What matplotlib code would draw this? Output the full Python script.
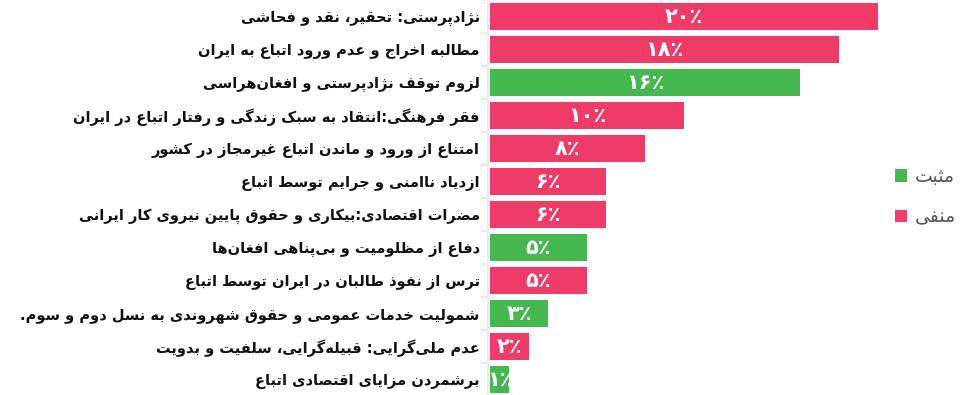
import matplotlib
matplotlib.use("Agg")
import matplotlib.pyplot as plt
from matplotlib.patches import Patch

# ---------------- data ----------------
labels = [
    "نژادپرستی: تحقیر، نقد و فحاشی",
    "مطالبه اخراج و عدم ورود اتباع به ایران",
    "لزوم توقف نژادپرستی و افغان‌هراسی",
    "فقر فرهنگی:انتقاد به سبک زندگی و رفتار اتباع در ایران",
    "امتناع از ورود و ماندن اتباع غیرمجاز در کشور",
    "ازدیاد ناامنی و جرایم توسط اتباع",
    "مضرات اقتصادی:بیکاری و حقوق پایین نیروی کار ایرانی",
    "دفاع از مظلومیت و بی‌پناهی افغان‌ها",
    "ترس از نفوذ طالبان در ایران توسط اتباع",
    "شمولیت خدمات عمومی و حقوق شهروندی به نسل دوم و سوم.",
    "عدم ملی‌گرایی: قبیله‌گرایی، سلفیت و بدویت",
    "برشمردن مزایای اقتصادی اتباع",
]
values = [20, 18, 16, 10, 8, 6, 6, 5, 5, 3, 2, 1]
sentiment = ["neg", "neg", "pos", "neg", "neg", "neg", "neg", "pos", "neg", "pos", "neg", "pos"]
legend_labels = {"pos": "مثبت", "neg": "منفی"}

COLORS = {"pos": "#45B850", "neg": "#EE3B67"}

# ---------------- minimal Arabic/Persian shaping ----------------
DUAL = {
    "ب": "ﺏﺐﺑﺒ", "ت": "ﺕﺖﺗﺘ", "ث": "ﺙﺚﺛﺜ", "ج": "ﺝﺞﺟﺠ", "ح": "ﺡﺢﺣﺤ",
    "خ": "ﺥﺦﺧﺨ", "س": "ﺱﺲﺳﺴ", "ش": "ﺵﺶﺷﺸ", "ص": "ﺹﺺﺻﺼ", "ض": "ﺽﺾﺿﻀ",
    "ط": "ﻁﻂﻃﻄ", "ظ": "ﻅﻆﻇﻈ", "ع": "ﻉﻊﻋﻌ", "غ": "ﻍﻎﻏﻐ", "ف": "ﻑﻒﻓﻔ",
    "ق": "ﻕﻖﻗﻘ", "ك": "ﻙﻚﻛﻜ", "ل": "ﻝﻞﻟﻠ", "م": "ﻡﻢﻣﻤ", "ن": "ﻥﻦﻧﻨ",
    "ه": "ﻩﻪﻫﻬ", "ي": "ﻱﻲﻳﻴ", "ئ": "ﺉﺊﺋﺌ",
    "پ": "\ufb56\ufb57\ufb58\ufb59", "چ": "\ufb7a\ufb7b\ufb7c\ufb7d",
    "ک": "\ufb8e\ufb8f\ufb90\ufb91", "گ": "\ufb92\ufb93\ufb94\ufb95",
    "ی": "\ufbfc\ufbfd\ufbfe\ufbff",
}
RIGHT = {
    "ا": "ﺍﺎ", "آ": "ﺁﺂ", "أ": "ﺃﺄ", "د": "ﺩﺪ", "ذ": "ﺫﺬ", "ر": "ﺭﺮ",
    "ز": "ﺯﺰ", "و": "ﻭﻮ", "ة": "ﺓﺔ", "ژ": "\ufb8a\ufb8b",
}
LAMALEF = {"ا": "\ufefb\ufefc", "آ": "\ufef5\ufef6", "أ": "\ufef7\ufef8"}


def _is_letter(c):
    return c in DUAL or c in RIGHT


def shape(text):
    chars = list(text)
    out = []
    i = 0
    n = len(chars)
    while i < n:
        c = chars[i]
        prev_join = i > 0 and chars[i - 1] in DUAL
        if c == "ل" and i + 1 < n and chars[i + 1] in LAMALEF:
            forms = LAMALEF[chars[i + 1]]
            out.append(forms[1] if prev_join else forms[0])
            i += 2
            continue
        if c in DUAL:
            next_join = i + 1 < n and _is_letter(chars[i + 1])
            f = DUAL[c]
            if prev_join and next_join:
                out.append(f[3])
            elif prev_join:
                out.append(f[1])
            elif next_join:
                out.append(f[2])
            else:
                out.append(f[0])
        elif c in RIGHT:
            f = RIGHT[c]
            out.append(f[1] if prev_join else f[0])
        elif c == "\u200c":
            pass
        else:
            out.append(c)
        i += 1
    return "".join(reversed(out))


FA_DIGITS = str.maketrans("0123456789", "۰۱۲۳۴۵۶۷۸۹")


def pct(v):
    return str(v).translate(FA_DIGITS) + "٪"


# ---------------- figure ----------------
plt.rcParams["font.family"] = ["DejaVu Sans"]
fig = plt.figure(figsize=(9.75, 3.95), dpi=100)
W, H = 975, 395
ax = fig.add_axes([488 / W, 1 - 396 / H, 390 / W, 396 / H])

n = len(values)
ypos = list(range(n))
bar_colors = [COLORS[s] for s in sentiment]
bars = ax.barh(ypos, values, height=0.82, color=bar_colors, zorder=2)
ax.set_ylim(n - 0.5, -0.5)
ax.set_xlim(-0.103, 20)

for rect, v in zip(bars, values):
    ax.text(rect.get_x() + rect.get_width() / 2, rect.get_y() + rect.get_height() / 2,
            pct(v), color="white", fontsize=15, fontweight="bold",
            ha="center", va="center", zorder=3)

ax.set_yticks(ypos)
ax.set_yticklabels([shape(l) for l in labels], fontsize=10.5, fontweight="bold", color="#111111")
ax.tick_params(axis="y", which="major", length=0, pad=6)
ax.set_yticks([y + 0.5 for y in range(-1, n)], minor=True)
ax.tick_params(axis="y", which="minor", length=5, width=1.5, color="#e8e8e8")
ax.set_xticks([])
for s in ["top", "right", "bottom"]:
    ax.spines[s].set_visible(False)
ax.spines["left"].set_color("#ececec")
ax.spines["left"].set_linewidth(1.5)

handles = [Patch(facecolor=COLORS["pos"], edgecolor="none"),
           Patch(facecolor=COLORS["neg"], edgecolor="none")]
fig.legend(handles, [shape(legend_labels["pos"]), shape(legend_labels["neg"])],
           loc="center left", bbox_to_anchor=(895 / W, 1 - 197 / H), frameon=False,
           borderpad=0, borderaxespad=0,
           fontsize=13.5, labelcolor="#555555", handlelength=0.63, handleheight=0.63,
           handletextpad=0.4, labelspacing=1.15)

fig.savefig("out.png", dpi=100, facecolor="white")
